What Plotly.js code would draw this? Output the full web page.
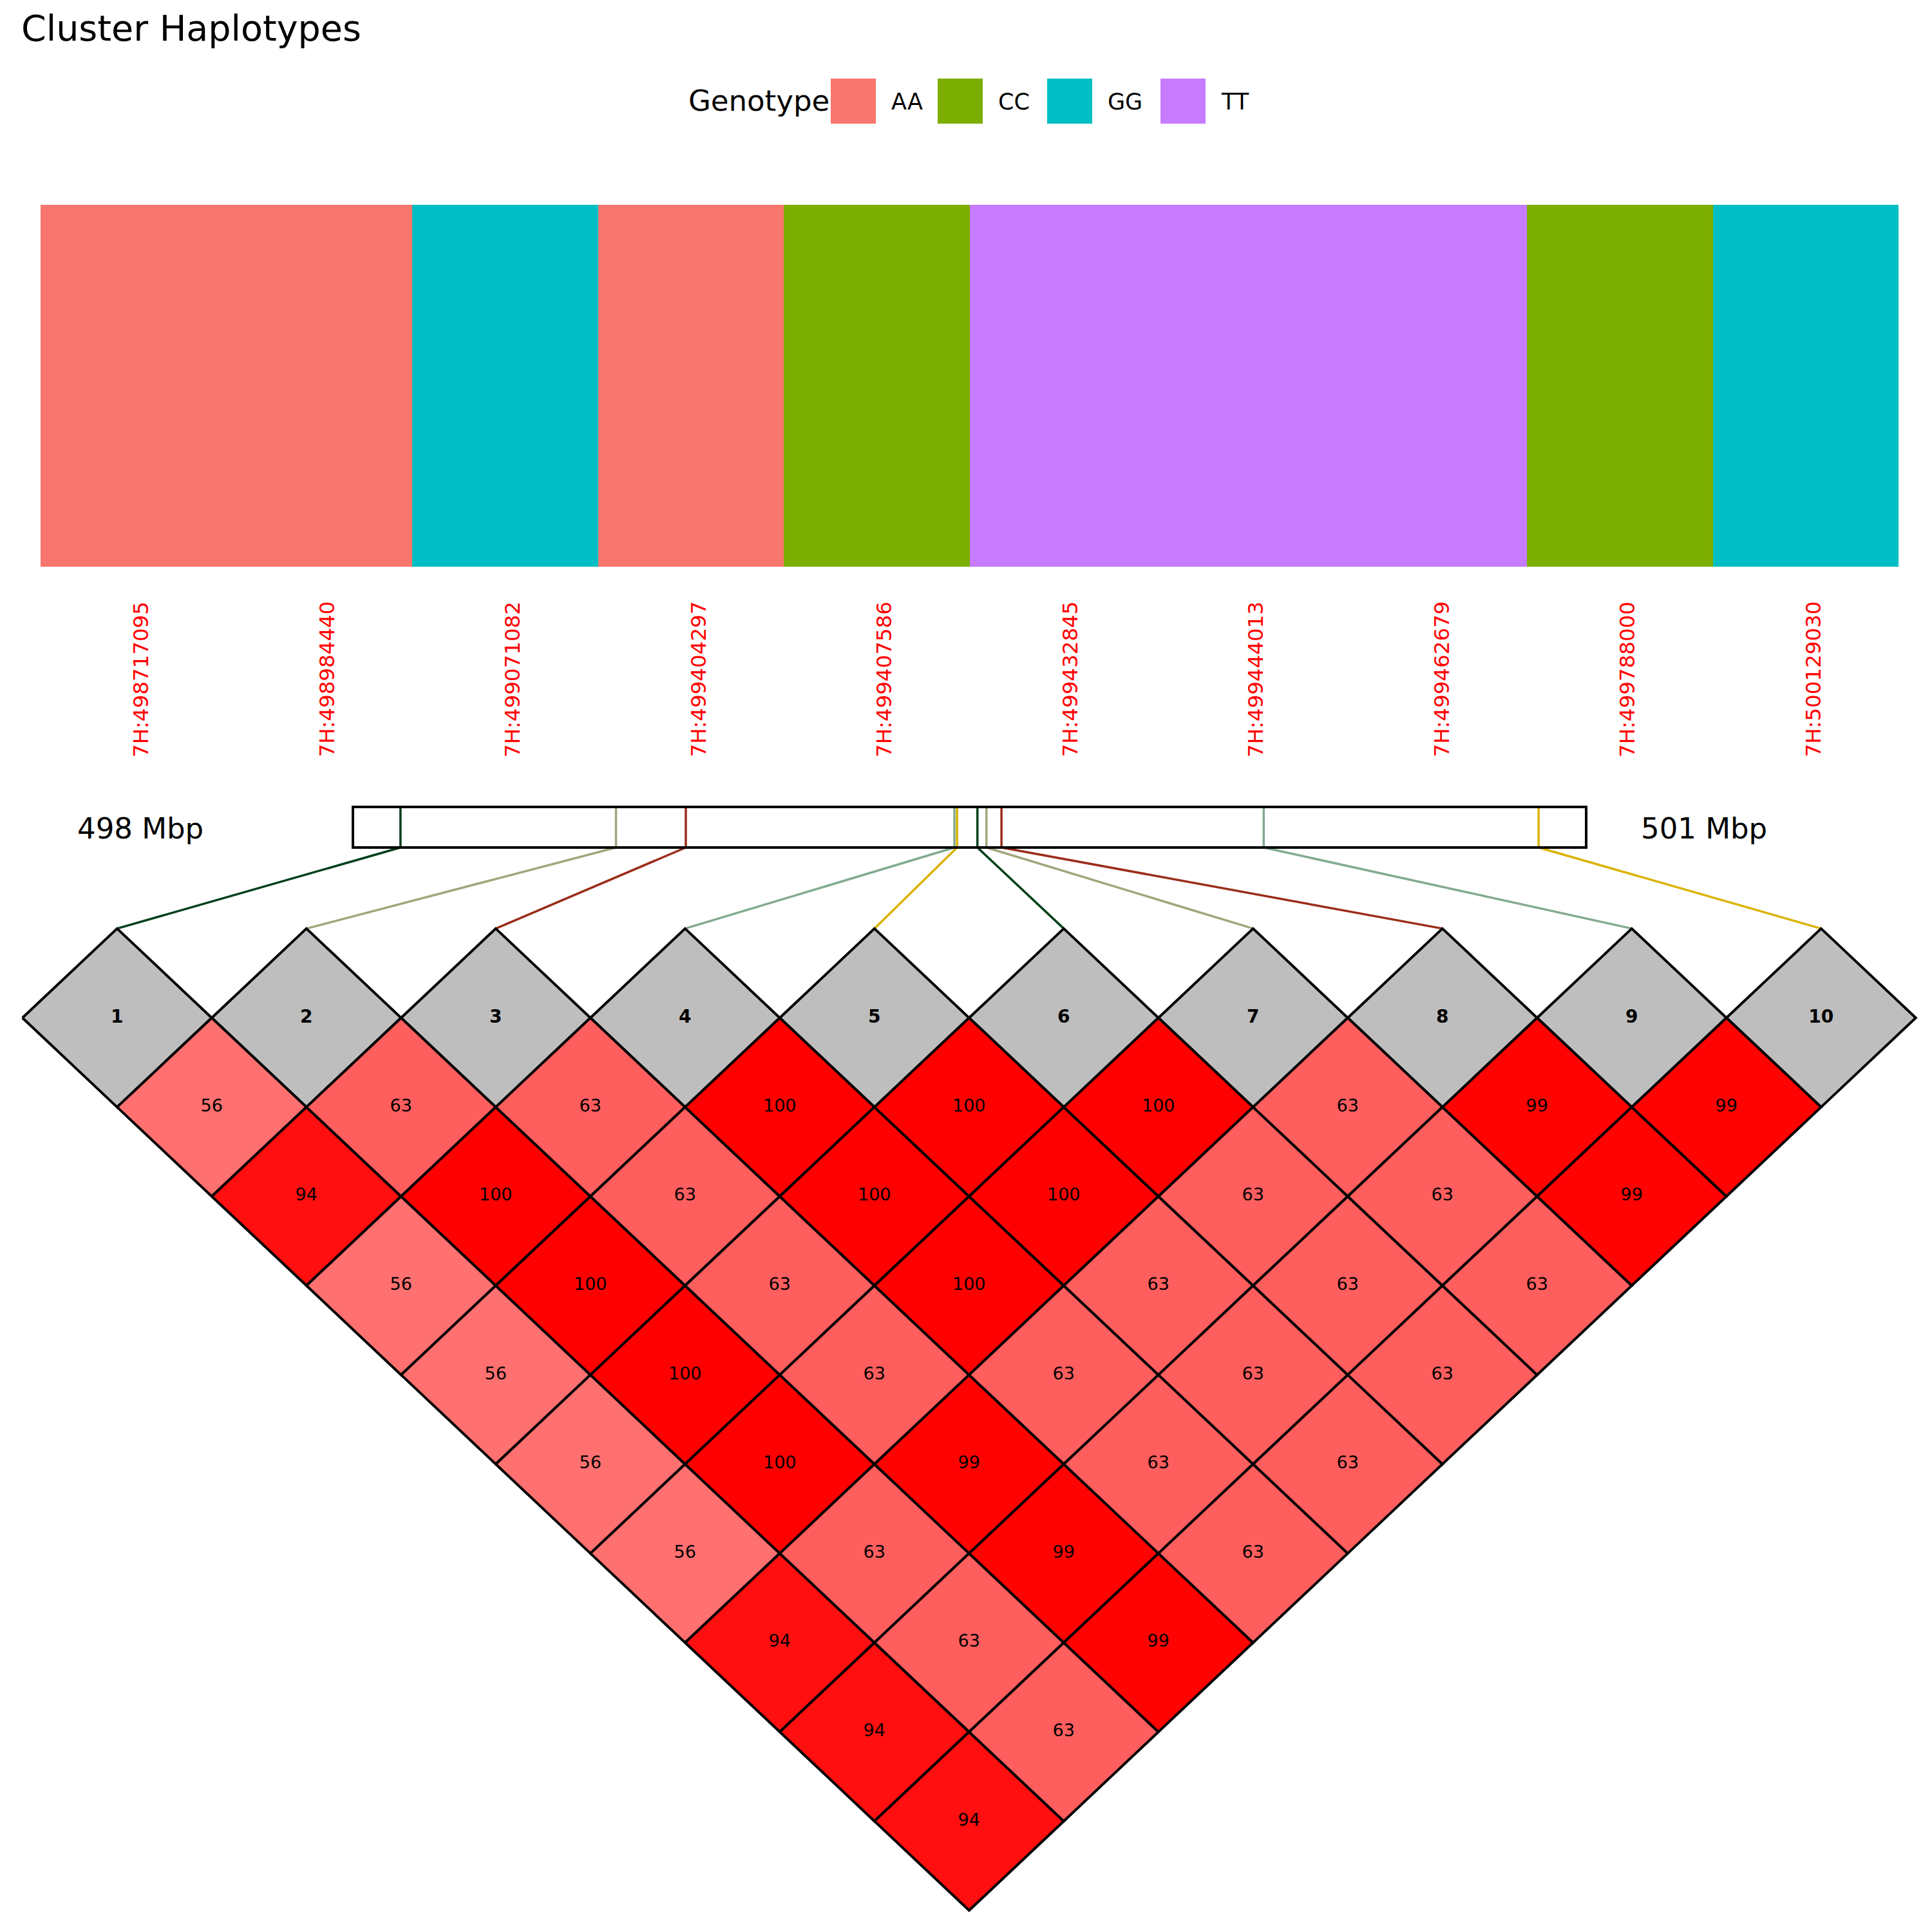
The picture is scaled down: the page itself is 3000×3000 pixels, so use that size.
<!DOCTYPE html>
<html><head><meta charset="utf-8">
<script src="https://cdn.plot.ly/plotly-3.0.1.min.js"></script>
<style>html,body{margin:0;padding:0;background:#fff}</style>
</head><body><div id="chart" style="width:3000px;height:3000px"></div>
<script>
// ---------------- DATA ----------------
const chartTitle = 'Cluster Haplotypes';
const legendTitle = 'Genotype';
const markerPos = [498717095, 498984440, 499071082, 499404297, 499407586, 499432845, 499444013, 499462679, 499788000, 500129030];
const markerChrom = '7H';
const markerGenotype = ['AA', 'AA', 'GG', 'AA', 'CC', 'TT', 'TT', 'TT', 'CC', 'GG'];
const genotypeLevels = ['AA', 'CC', 'GG', 'TT'];
// LD (D') values, row i holds pairs (i, j) for j > i
const ldRow1 = [56, 94, 56, 56, 56, 56, 94, 94, 94];
const ldRow2 = [63, 100, 100, 100, 100, 63, 63, 63];
const ldRow3 = [63, 63, 63, 63, 99, 99, 99];
const ldRow4 = [100, 100, 100, 63, 63, 63];
const ldRow5 = [100, 100, 63, 63, 63];
const ldRow6 = [100, 63, 63, 63];
const ldRow7 = [63, 63, 63];
const ldRow8 = [99, 99];
const ldRow9 = [99];
const ldRows = [ldRow1, ldRow2, ldRow3, ldRow4, ldRow5, ldRow6, ldRow7, ldRow8, ldRow9];

// ---------------- STYLE / LAYOUT GEOMETRY ----------------
const W = 3000, H = 3000;
const FONT = 'DejaVu Sans, sans-serif';
const genoColors = {AA: '#F8766D', CC: '#7CAE00', GG: '#00BFC4', TT: '#C77CFF'};
const markerPalette = ['#00401A', '#A4A47C', '#9B2D1A', '#82AA8E', '#D9B300'];
const heat = {left: 63, right: 2948, top: 318, bottom: 880};
const bar = {left: 548, right: 2463, top: 1253, bottom: 1316};
const ldGeo = {c1: 181.8, unitX: 294, midY: 1580.5, unitY: 277.2};
const legendSwatchLeft = [1290, 1456, 1626, 1802];
const legendSw = {top: 122, size: 70};

const n = markerPos.length;
const mbp = markerPos.map(p => p / 1e6);
const pMin = Math.min(...mbp), pMax = Math.max(...mbp);
const pad = (pMax - pMin) * 0.0418;
const barRange = [pMin - pad, pMax + pad];

const x3range = [1 - ldGeo.c1 / ldGeo.unitX, 1 - ldGeo.c1 / ldGeo.unitX + W / ldGeo.unitX];
const y3range = [(ldGeo.midY - H) / ldGeo.unitY, ldGeo.midY / ldGeo.unitY];
const toLdX = px => x3range[0] + px / ldGeo.unitX;
const toLdY = py => (ldGeo.midY - py) / ldGeo.unitY;
const barPx = m => bar.left + (m - barRange[0]) / (barRange[1] - barRange[0]) * (bar.right - bar.left);

const ldColor = v => {
  const g = Math.round((100 - v) / 100 * 255);
  return `rgb(255,${g},${g})`;
};

const traces = [];
// genotype heatmap
const idx = markerPos.map((_, i) => i + 1);
const nl = genotypeLevels.length - 1;
traces.push({
  type: 'heatmap', xaxis: 'x', yaxis: 'y',
  x: idx, y: [0],
  z: [markerGenotype.map(g => genotypeLevels.indexOf(g))],
  zmin: 0, zmax: nl,
  colorscale: genotypeLevels.map((g, k) => [k / nl, genoColors[g]]),
  showscale: false, hoverinfo: 'skip'
});
// marker lines in chromosome bar
mbp.forEach((m, i) => {
  traces.push({
    type: 'scatter', mode: 'lines', xaxis: 'x2', yaxis: 'y2',
    x: [m, m], y: [0, 1], cliponaxis: false,
    line: {color: markerPalette[i % markerPalette.length], width: 3.5},
    hoverinfo: 'skip', showlegend: false
  });
});
// connectors
mbp.forEach((m, i) => {
  traces.push({
    type: 'scatter', mode: 'lines', xaxis: 'x3', yaxis: 'y3',
    x: [toLdX(barPx(m)), i + 1], y: [toLdY(bar.bottom), 0.5], cliponaxis: false,
    line: {color: markerPalette[i % markerPalette.length], width: 3.5},
    hoverinfo: 'skip', showlegend: false
  });
});
// diamonds
const diamond = (cx, cy, fill) => ({
  type: 'scatter', mode: 'lines', xaxis: 'x3', yaxis: 'y3',
  x: [cx - 0.5, cx, cx + 0.5, cx, cx - 0.5],
  y: [cy, cy + 0.5, cy, cy - 0.5, cy],
  fill: 'toself', fillcolor: fill,
  line: {color: '#000000', width: 4}, cliponaxis: false,
  hoverinfo: 'skip', showlegend: false
});
for (let i = 1; i <= n; i++) traces.push(diamond(i, 0, '#BEBEBE'));
const cellX = [], cellY = [], cellT = [];
ldRows.forEach((row, r) => {
  row.forEach((v, k) => {
    const i = r + 1, j = r + 2 + k;
    const cx = (i + j) / 2, cy = -(j - i) / 2;
    traces.push(diamond(cx, cy, ldColor(v)));
    cellX.push(cx); cellY.push(cy); cellT.push(String(v));
  });
});
traces.push({
  type: 'scatter', mode: 'text', xaxis: 'x3', yaxis: 'y3',
  x: cellX, y: cellY, text: cellT, textposition: 'middle center',
  textfont: {family: FONT, size: 27, color: '#000'}, cliponaxis: false,
  hoverinfo: 'skip', showlegend: false
});
traces.push({
  type: 'scatter', mode: 'text', xaxis: 'x3', yaxis: 'y3',
  x: idx, y: idx.map(() => 0), text: idx.map(String), textposition: 'middle center',
  textfont: {family: FONT, size: 28, color: '#000', weight: 'bold'}, cliponaxis: false,
  hoverinfo: 'skip', showlegend: false
});

// annotations
const annotations = [];
markerPos.forEach((p, i) => {
  annotations.push({
    xref: 'x', yref: 'paper', x: i + 1, y: 1 - 932 / H,
    xanchor: 'center', yanchor: 'top', xshift: 12, textangle: -90,
    text: `${markerChrom}:${p}`, showarrow: false,
    font: {family: FONT, size: 32.5, color: '#FF0000'}
  });
});
annotations.push({
  xref: 'paper', yref: 'paper', x: 218 / W, y: 1 - 1286 / H, xanchor: 'center', yanchor: 'middle',
  text: `${Math.floor(pMin)} Mbp`, showarrow: false, font: {family: FONT, size: 45, color: '#000'}
});
annotations.push({
  xref: 'paper', yref: 'paper', x: 2646 / W, y: 1 - 1286 / H, xanchor: 'center', yanchor: 'middle',
  text: `${Math.ceil(pMax)} Mbp`, showarrow: false, font: {family: FONT, size: 45, color: '#000'}
});
annotations.push({
  xref: 'paper', yref: 'paper', x: 1290 / W, y: 1 - 156 / H, xanchor: 'right', yanchor: 'middle',
  text: legendTitle, showarrow: false, font: {family: FONT, size: 45, color: '#000'}
});
const shapes = [];
genotypeLevels.forEach((g, k) => {
  const x0 = legendSwatchLeft[k];
  shapes.push({
    type: 'rect', xref: 'paper', yref: 'paper',
    x0: x0 / W, x1: (x0 + legendSw.size) / W,
    y0: 1 - (legendSw.top + legendSw.size) / H, y1: 1 - legendSw.top / H,
    fillcolor: genoColors[g], line: {width: 0}
  });
  annotations.push({
    xref: 'paper', yref: 'paper', x: (x0 + legendSw.size + 22) / W, y: 1 - 158 / H,
    xanchor: 'left', yanchor: 'middle', text: g, showarrow: false,
    font: {family: FONT, size: 35, color: '#000'}
  });
});
shapes.push({
  type: 'rect', xref: 'x2 domain', yref: 'y2 domain', x0: 0, x1: 1, y0: 0, y1: 1,
  line: {color: '#000', width: 4}, fillcolor: 'rgba(0,0,0,0)', layer: 'above'
});

const hidden = {visible: false, fixedrange: true};
const layout = {
  width: W, height: H,
  margin: {l: 0, r: 0, t: 0, b: 0, pad: 0},
  paper_bgcolor: '#ffffff', plot_bgcolor: 'rgba(0,0,0,0)',
  showlegend: false,
  font: {family: FONT, color: '#000'},
  title: {text: chartTitle, x: 33 / W, xanchor: 'left', xref: 'paper', y: 1 - 44 / H, yref: 'paper', yanchor: 'middle',
          font: {family: FONT, size: 55.5, color: '#000'}},
  xaxis: Object.assign({domain: [heat.left / W, heat.right / W], range: [0.5, n + 0.5], anchor: 'y'}, hidden),
  yaxis: Object.assign({domain: [1 - heat.bottom / H, 1 - heat.top / H], range: [-0.5, 0.5], anchor: 'x'}, hidden),
  xaxis2: Object.assign({domain: [bar.left / W, bar.right / W], range: barRange, anchor: 'y2'}, hidden),
  yaxis2: Object.assign({domain: [1 - bar.bottom / H, 1 - bar.top / H], range: [0, 1], anchor: 'x2'}, hidden),
  xaxis3: Object.assign({domain: [0, 1], range: x3range, anchor: 'y3'}, hidden),
  yaxis3: Object.assign({domain: [0, 1], range: y3range, anchor: 'x3'}, hidden),
  annotations: annotations,
  shapes: shapes
};
Plotly.newPlot('chart', traces, layout, {displayModeBar: false, staticPlot: true});
</script></body></html>
